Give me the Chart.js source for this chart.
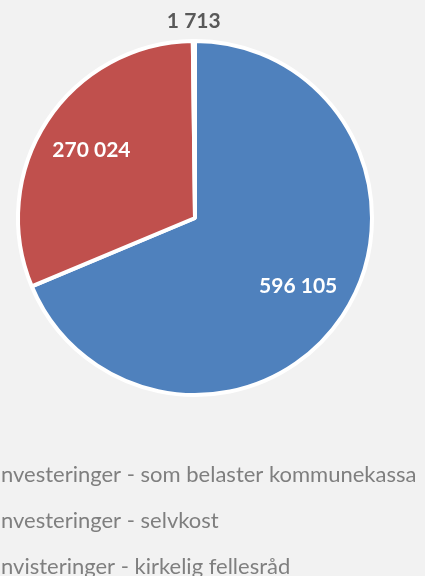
<!DOCTYPE html>
<html>
<head>
<meta charset="utf-8">
<script src="https://cdn.jsdelivr.net/npm/chart.js@4"></script>
<style>
    body { margin: 0; background: #f2f2f2; overflow: hidden; width: 425px; height: 576px; }
    #wrap { position: absolute; left: -60px; top: -4px; width: 510px; height: 592px; }
</style>
</head>
<body>
<div id="wrap"><canvas id="investChart"></canvas></div>
<script>
// Chart data
const categories = [
    'Investeringer - som belaster kommunekassa',
    'Investeringer - selvkost',
    'Invisteringer - kirkelig fellesråd'
];
const amounts = [596105, 270024, 1713];
const sliceColors = ['#4f81bd', '#c0504d', '#9bbb59'];

// Norwegian style thousands separator
function formatAmount(value) {
    return String(value).replace(/\B(?=(\d{3})+(?!\d))/g, ' ');
}

// Draw value labels on the slices (small slices get theirs outside)
const sliceLabels = {
    id: 'sliceLabels',
    afterDatasetsDraw(chart) {
        const ctx = chart.ctx;
        const meta = chart.getDatasetMeta(0);
        const total = amounts.reduce((a, b) => a + b, 0);

        ctx.save();
        ctx.font = 'bold 21px Lato';
        ctx.textAlign = 'center';
        ctx.textBaseline = 'middle';
        meta.data.forEach((arc, i) => {
            const p = arc.getProps(['x', 'y', 'startAngle', 'endAngle', 'outerRadius'], true);
            const mid = (p.startAngle + p.endAngle) / 2;
            const small = amounts[i] / total < 0.05;
            const dist = small ? p.outerRadius + 20 : p.outerRadius * 0.7;
            ctx.fillStyle = small ? '#595959' : '#ffffff';
            ctx.fillText(formatAmount(amounts[i]), p.x + Math.cos(mid) * dist, p.y + Math.sin(mid) * dist);
        });
        ctx.restore();
    }
};

new Chart(document.getElementById('investChart'), {
    type: 'pie',
    data: {
        labels: categories,
        datasets: [{
            data: amounts,
            backgroundColor: sliceColors,
            borderColor: '#ffffff',
            borderWidth: 4
        }]
    },
    options: {
        responsive: true,
        maintainAspectRatio: false,
        animation: false,
        radius: 177,
        layout: { padding: 0 },
        plugins: {
            tooltip: { enabled: false },
            legend: {
                position: 'bottom',
                align: 'start',
                labels: {
                    boxWidth: 20,
                    padding: 24,
                    color: '#7f7f7f',
                    font: { family: 'Lato', size: 22 }
                }
            }
        }
    },
    plugins: [sliceLabels]
});
</script>
</body>
</html>
